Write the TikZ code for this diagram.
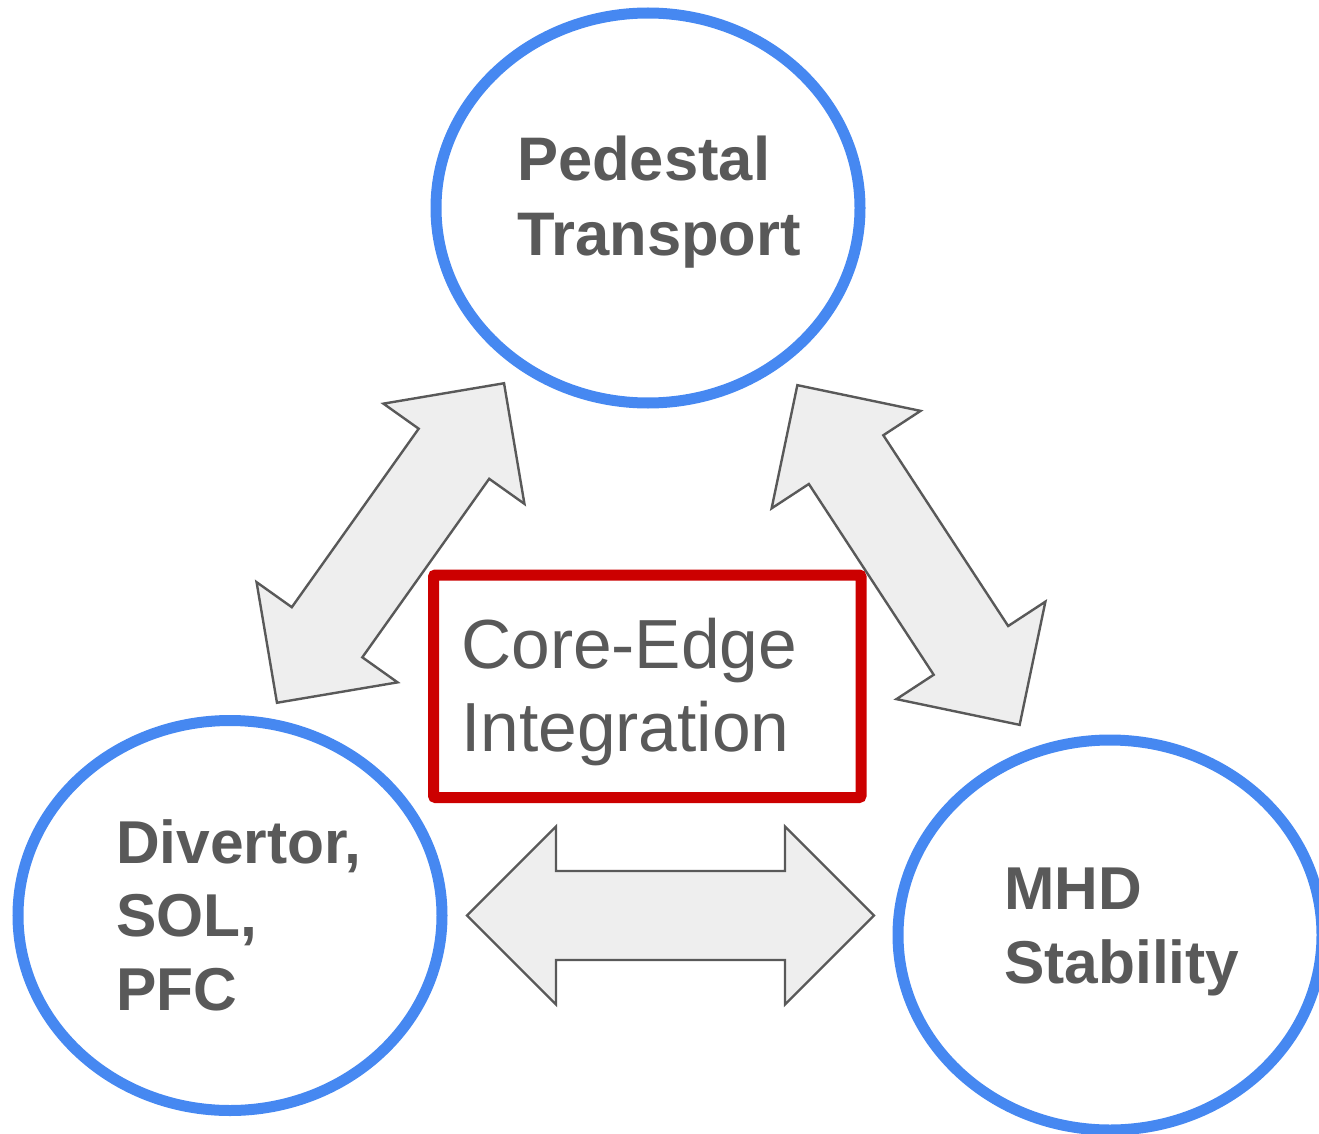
\documentclass[tikz,border=0pt]{standalone}
\usepackage{fontspec}
\setmainfont{Liberation Sans}
\usepackage{tikz}
\usetikzlibrary{
        shapes.geometric
    }
\definecolor{ringblue}{HTML}{4688F1}
\definecolor{boxred}{HTML}{CC0000}
\definecolor{textgray}{HTML}{595959}
\definecolor{arrowfill}{HTML}{EEEEEE}
\tikzset{x=1pt,y=-1pt}
\tikzset{
    pics/twoway/.style args={#1/#2}{code={
        \draw[link] (-#1,0) -- ({-#1+#2},{-#2}) -- ({-#1+#2},{-#2/2}) -- ({#1-#2},{-#2/2}) -- ({#1-#2},{-#2})
            -- (#1,0) -- ({#1-#2},{#2}) -- ({#1-#2},{#2/2}) -- ({-#1+#2},{#2/2}) -- ({-#1+#2},{#2}) -- cycle;
    }}
}

\begin{document}
\begin{tikzpicture}[
        ring/.style={ellipse,draw=ringblue,line width=11pt,inner sep=0pt,minimum width=424pt,minimum height=390pt},
        topic/.style={align=left,text=textgray,inner sep=0pt,anchor=base west,font=\fontsize{60.5}{73.5}\selectfont\bfseries},
        link/.style={draw=textgray,fill=arrowfill,line width=2.4pt,line join=miter}
    ]
        \useasboundingbox (0,0) rectangle (1319,1134);

        % the three topics
        \node[ring] (ped) at (648,208) {};
        \node[ring] (div) at (230,915.5) {};
        \node[ring] (mhd) at (1110,935) {};

        % exchange between them
        \pic[rotate=54.6] (peddiv) at (390.5,543) {twoway={196/86.5}};
        \pic[rotate=-56.8] (pedmhd) at (908.5,555) {twoway={203/89}};
        \pic (divmhd) at (670.5,915.5) {twoway={203.5/89}};

        \node[draw=boxred,fill=white,line width=11pt,rounded corners=2pt,inner sep=0pt,
            minimum width=427.5pt,minimum height=222.5pt] (core) at (647.25,686.25) {};

        % labels
        \node[topic,font=\fontsize{61.5}{75}\selectfont\bfseries] (pedlbl) at (517,255) {Pedestal\\Transport};
        \node[topic] (divlbl) at (116,1010) {Divertor,\\SOL,\\PFC};
        \node[topic] (mhdlbl) at (1004,983.3) {MHD\\Stability};
        \node[topic,font=\fontsize{69.5}{83.5}\selectfont] (corelbl) at (461,751.7) {Core-Edge\\Integration};
\end{tikzpicture}
\end{document}
